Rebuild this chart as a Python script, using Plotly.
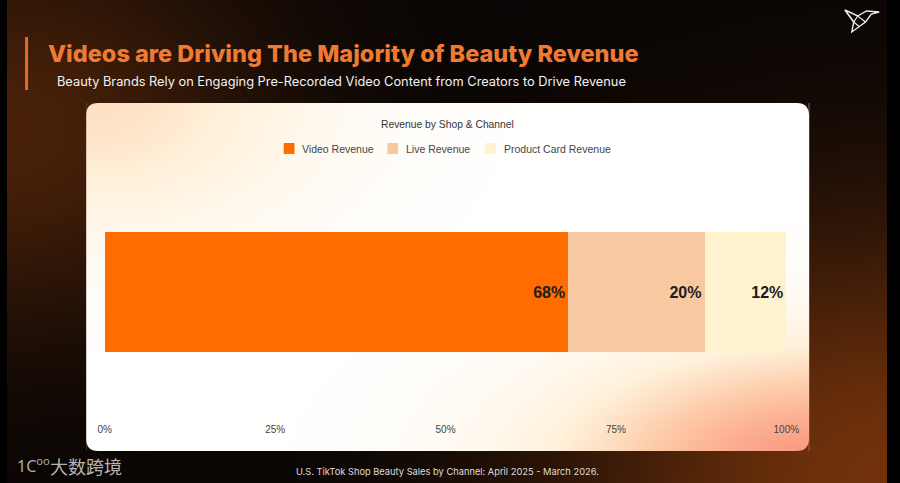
import numpy as np
import plotly.graph_objects as go

# chart data
channels = ["Video Revenue", "Live Revenue", "Product Card Revenue"]
shares = [68, 20, 12]
bar_colors = ["#FF6D00", "#F8C9A0", "#FFF2CF"]
tick_vals = [0, 25, 50, 75, 100]
tick_text = ["0%", "25%", "50%", "75%", "100%"]

W, H = 900, 483
PANEL = dict(x0=81, x1=820, y0=103, y1=451, r=12)

# --- background glow (dark page) ---
dark_scale = [[0, "rgb(8,5,4)"], [1, "rgb(125,55,12)"]]


def dark_glow(x, y):
    a = 0.55 * np.exp(-((x - 0) / 260) ** 2 - ((y - 130) / 200) ** 2)
    b = 0.9 * np.exp(-((x - 900) / 330) ** 2 - ((y - 483) / 260) ** 2)
    return np.maximum(a, b)


def dark_rgb(x, y):
    t = float(dark_glow(x, y))
    c0, c1 = np.array([8, 5, 4]), np.array([125, 55, 12])
    c = c0 + (c1 - c0) * t
    return "rgb(%d,%d,%d)" % tuple(c.round())


gx = np.linspace(0, W, 91)
gy = np.linspace(0, H, 50)
GX, GY = np.meshgrid(gx, gy)
bg = go.Heatmap(x=gx, y=gy, z=dark_glow(GX, GY), zmin=0, zmax=1, colorscale=dark_scale,
                zsmooth="best", showscale=False, hoverinfo="skip", xaxis="x", yaxis="y")

# --- panel gradient (white card with peach corners) ---
panel_scale = [[0, "rgb(255,255,255)"], [0.3, "rgb(255,241,218)"],
               [0.6, "rgb(253,202,168)"], [1, "rgb(250,150,125)"]]
nx, ny = 74, 35
dx = (PANEL["x1"] - PANEL["x0"]) / nx
dy = (PANEL["y1"] - PANEL["y0"]) / ny
px_c = PANEL["x0"] + dx * (np.arange(nx) + 0.5)
py_c = PANEL["y0"] + dy * (np.arange(ny) + 0.5)
PX, PY = np.meshgrid(px_c, py_c)
warm = np.maximum(0.42 * np.exp(-((PX - 90) / 220) ** 2 - ((PY - 105) / 130) ** 2),
                  1.0 * np.exp(-((PX - 840) / 260) ** 2 - ((PY - 470) / 115) ** 2))
panel = go.Heatmap(x=px_c, y=py_c, z=warm, zmin=0, zmax=1, colorscale=panel_scale,
                   zsmooth="best", showscale=False, hoverinfo="skip", xaxis="x", yaxis="y")

# --- stacked bar ---
bars = []
for name, val, col in zip(channels, shares, bar_colors):
    bars.append(go.Bar(
        x=[val], y=[0], orientation="h", name=name, width=1,
        marker=dict(color=col, line=dict(width=0)),
        text=[f"{val}%"], textposition="inside", insidetextanchor="end",
        textfont=dict(family="Liberation Sans", size=16, color="#1c1c1c", weight="bold"),
        hoverinfo="skip", showlegend=False, xaxis="x2", yaxis="y2",
    ))

fig = go.Figure(data=[bg, panel] + bars)

plot_top, plot_bot, bar_mid = 140, 422, 292
fig.update_layout(
    width=W, height=H, margin=dict(l=0, r=0, t=0, b=0),
    paper_bgcolor="black", plot_bgcolor="rgba(0,0,0,0)",
    barmode="stack", showlegend=False,
    xaxis=dict(domain=[0, 1], range=[0, W], visible=False, fixedrange=True),
    yaxis=dict(domain=[0, 1], range=[H, 0], visible=False, fixedrange=True),
    xaxis2=dict(domain=[100 / W, 797 / W], range=[0, 100], anchor="y2",
                tickvals=tick_vals, ticktext=tick_text, showgrid=False, zeroline=False,
                showline=False, ticks="",
                tickfont=dict(family="Liberation Sans", size=10, color="#444")),
    yaxis2=dict(domain=[1 - plot_bot / H, 1 - plot_top / H], anchor="x2",
                range=[-(plot_bot - bar_mid) / 120, (bar_mid - plot_top) / 120],
                visible=False, showgrid=False, zeroline=False),
)

# rounded card corners (mask with page colour)
r = PANEL["r"]
x0, x1, y0, y1 = PANEL["x0"], PANEL["x1"], PANEL["y0"], PANEL["y1"]
corners = [
    (f"M{x0},{y0} L{x0 + r},{y0} Q{x0},{y0} {x0},{y0 + r} Z", dark_rgb(x0, y0)),
    (f"M{x1},{y0} L{x1 - r},{y0} Q{x1},{y0} {x1},{y0 + r} Z", dark_rgb(x1, y0)),
    (f"M{x0},{y1} L{x0 + r},{y1} Q{x0},{y1} {x0},{y1 - r} Z", dark_rgb(x0, y1)),
    (f"M{x1},{y1} L{x1 - r},{y1} Q{x1},{y1} {x1},{y1 - r} Z", dark_rgb(x1, y1)),
]
for path, col in corners:
    fig.add_shape(type="path", path=path, xref="x", yref="y", layer="above",
                  fillcolor=col, line=dict(width=0))

# orange accent bar beside title
fig.add_shape(type="line", x0=20, x1=20, y0=37, y1=90, xref="x", yref="y",
              line=dict(color="#E8692C", width=3))

# origami bird logo
fig.add_shape(type="path", xref="x", yref="y",
              path="M857,10 L870,16 L879,11 L892,12 L884,14 L878,22 L864,32 L866,22 Z",
              line=dict(color="#EDEDED", width=1.4))
fig.add_shape(type="path", xref="x", yref="y",
              path="M857,10 L866,22 L870,16 L878,22 M866,22 L872,27",
              line=dict(color="#EDEDED", width=1.2))

# custom legend
leg_x = [283, 389, 489]
for name, col, lx in zip(channels, bar_colors, leg_x):
    fig.add_shape(type="rect", x0=lx, x1=lx + 11, y0=143, y1=154, xref="x", yref="y",
                  fillcolor=col, line=dict(width=0))
    fig.add_annotation(x=lx + 17, y=148.5, xref="x", yref="y", text=name, showarrow=False,
                       xanchor="left", yanchor="middle",
                       font=dict(family="Liberation Sans", size=10.5, color="#444"))

texts = [
    dict(x=40, y=53, text="Videos are Driving The Majority of Beauty Revenue",
         xanchor="left", font=dict(family="Inter", size=23.5, weight=800, color="#F07A32")),
    dict(x=49, y=81, text="Beauty Brands Rely on Engaging Pre-Recorded Video Content from Creators to Drive Revenue",
         xanchor="left", font=dict(family="Inter", size=12.8, color="#F2F2F2")),
    dict(x=450, y=124, text="Revenue by Shop & Channel", xanchor="center",
         font=dict(family="Liberation Sans", size=10.3, color="#333")),
    dict(x=450, y=471, text="U.S. TikTok Shop Beauty Sales by Channel: April 2025 - March 2026.",
         xanchor="center", font=dict(family="Inter", size=9.3, color="#DDDDDD")),
    dict(x=8, y=465, text="1C<sup>oo</sup>", xanchor="left",
         font=dict(family="Noto Sans", size=16, color="#AAAAAA")),
    dict(x=42, y=466, text="大数跨境", xanchor="left",
         font=dict(family="Noto Sans CJK SC", size=18, color="#B5B5B5")),
]
for t in texts:
    fig.add_annotation(xref="x", yref="y", showarrow=False, yanchor="middle", **t)

fig.write_html("out.html", config={"displayModeBar": False, "responsive": False},
               post_script="document.body.style.margin='0';document.body.style.overflow='hidden';")
